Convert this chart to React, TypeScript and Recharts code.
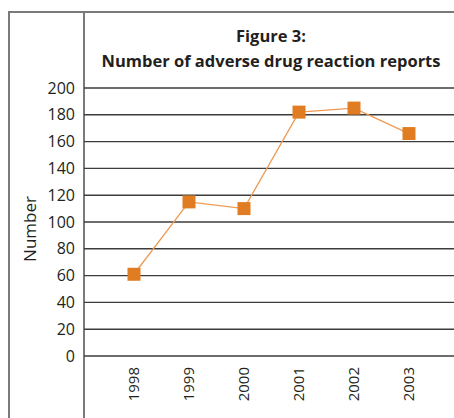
import React from 'react';
import { LineChart, Line, XAxis, YAxis, CartesianGrid } from 'recharts';

const years = ['1998', '1999', '2000', '2001', '2002', '2003'];
const reports = [61, 115, 110, 182, 185, 166];
const yTicks = [0, 20, 40, 60, 80, 100, 120, 140, 160, 180, 200];

const data = years.map((year, i) => ({ year, reports: reports[i] }));

const FONT = '"Open Sans", "Noto Sans", sans-serif';
const TEXT = '#231f20';
const FRAME = '#7a7a7a';

// square orange marker centred on the point
function SquareDot(props: any) {
  const { cx, cy } = props;
  if (cx == null || cy == null) return null;
  const s = 13;
  return <rect x={cx - s / 2} y={cy - s / 2} width={s} height={s} fill="#e07d22" />;
}

// year labels run bottom-to-top under each point
function YearTick(props: any) {
  const { x, y, payload } = props;
  return (
    <text
      transform={`translate(${x},${y}) rotate(-90)`}
      textAnchor="end"
      dy="0.36em"
      fill={TEXT}
      fontSize={15}
      fontFamily={FONT}
    >
      {payload.value}
    </text>
  );
}

export default function App() {
  return (
    <div style={{ position: 'absolute', left: 0, top: 0, width: 454, height: 418, background: '#fff', overflow: 'hidden' }}>
      {/* outer frame and the tall axis rule */}
      <div style={{ position: 'absolute', left: 8, top: 11, width: 460, height: 420, borderLeft: `2px solid ${FRAME}`, borderTop: `2px solid ${FRAME}` }} />
      <div style={{ position: 'absolute', left: 83, top: 11, width: 0, height: 420, borderLeft: `2px solid ${FRAME}` }} />
      <div
        style={{
          position: 'absolute',
          left: 84,
          top: 23,
          width: 374,
          textAlign: 'center',
          fontFamily: FONT,
          fontWeight: 700,
          fontSize: 16.5,
          lineHeight: '25px',
          color: TEXT,
        }}
      >
        Figure 3:
        <br />
        Number of adverse drug reaction reports
      </div>
      <LineChart
        width={454}
        height={418}
        data={data}
        margin={{ top: 88, right: 0, left: 0, bottom: 0 }}
        style={{ position: 'absolute', left: 0, top: 0 }}
      >
        <CartesianGrid horizontal vertical={false} stroke="#3c3c3c" strokeWidth={1.4} />
        <XAxis
          dataKey="year"
          scale="point"
          height={62}
          padding={{ left: 50, right: 45 }}
          axisLine={false}
          tickLine={false}
          tickSize={0}
          tickMargin={11}
          tick={<YearTick />}
          interval={0}
        />
        <YAxis
          width={84}
          domain={[0, 200]}
          ticks={yTicks}
          axisLine={false}
          tickLine={false}
          tickSize={0}
          tickMargin={9}
          tick={{ fill: TEXT, fontSize: 16, fontFamily: FONT }}
          label={{
            content: () => (
              <text
                transform="translate(30,229) rotate(-90)"
                textAnchor="middle"
                dy="0.36em"
                fill={TEXT}
                fontSize={17}
                fontFamily={FONT}
              >
                Number
              </text>
            ),
          }}
        />
        <Line
          type="linear"
          dataKey="reports"
          stroke="#ef9a52"
          strokeWidth={1.3}
          dot={<SquareDot />}
          activeDot={false}
          isAnimationActive={false}
        />
      </LineChart>
    </div>
  );
}
